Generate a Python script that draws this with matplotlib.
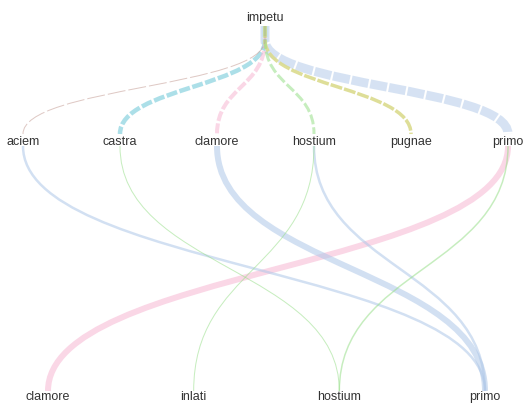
import numpy as np
import matplotlib
matplotlib.use("Agg")
import matplotlib.pyplot as plt
from matplotlib.path import Path
from matplotlib.patches import PathPatch

plt.rcParams['font.family'] = ['Liberation Sans', 'DejaVu Sans']
plt.rcParams['lines.scale_dashes'] = False

root = "impetu"
level1 = ["aciem", "castra", "clamore", "hostium", "pugnae", "primo"]
level1_weight = [1, 4.5, 4, 3, 3.5, 9]
level1_color = ["#c49c94", "#9edae5", "#f7b6d2", "#98df8a", "#dbdb8d", "#aec7e8"]
level1_alpha = [0.55, 0.85, 0.55, 0.55, 0.9, 0.5]
level1_dash = [(18, 3), (11, 2.5), (10, 2.5), (10, 3), (12, 2), (17, 2)]

level2 = ["clamore", "inlati", "hostium", "primo"]
# (from level1 word, to level2 word, weight)
links2_src = ["aciem", "castra", "clamore", "hostium", "hostium", "primo", "primo"]
links2_dst = ["primo", "hostium", "primo", "inlati", "primo", "clamore", "hostium"]
links2_weight = [2.5, 1, 6, 1, 2.5, 6, 1.5]
level2_color = {"clamore": "#f7b6d2", "inlati": "#98df8a", "hostium": "#98df8a", "primo": "#aec7e8"}

W, H = 524, 407
fig = plt.figure(figsize=(W / 100, H / 100), dpi=100)
ax = fig.add_axes([0, 0, 1, 1])
ax.set_xlim(0, W)
ax.set_ylim(H, 0)
ax.axis('off')

px = 0.72  # points per pixel
x_root = 265
x1 = dict(zip(level1, np.linspace(23, 508, len(level1))))
x2 = dict(zip(level2, np.linspace(48, 485, len(level2))))


def link(x0, y0, xe, ye, stub=None, **kw):
    verts, codes = [], []
    if stub is not None:
        verts.append((x0, stub))
        codes.append(Path.MOVETO)
        codes.append(Path.LINETO)
    else:
        codes.append(Path.MOVETO)
    ym = (y0 + ye) / 2
    verts += [(x0, y0), (x0, ym), (xe, ym), (xe, ye)]
    codes += [Path.CURVE4] * 3
    ax.add_patch(PathPatch(Path(verts, codes), fill=False, capstyle='butt', **kw))


# root -> level 1 (dashed)
order = np.argsort(level1_weight)[::-1]
for i in order:
    on, off = level1_dash[i]
    link(x_root, 40, x1[level1[i]], 134, stub=26, edgecolor=level1_color[i],
         alpha=level1_alpha[i], lw=level1_weight[i] * px,
         linestyle=(0, (on * px, off * px)))

# level 1 -> level 2
order = np.argsort(links2_weight)[::-1]
for i in order:
    s, d = links2_src[i], links2_dst[i]
    link(x1[s], 146, x2[d], 391, edgecolor=level2_color[d], alpha=0.55,
         lw=links2_weight[i] * px)

txt = dict(ha='center', va='center', fontsize=9, color='#333333')
ax.text(x_root, 18, root, **txt)
for w in level1:
    ax.text(x1[w], 142, w, **txt)
for w in level2:
    ax.text(x2[w], 397, w, **txt)

fig.savefig("out.png", dpi=100)
